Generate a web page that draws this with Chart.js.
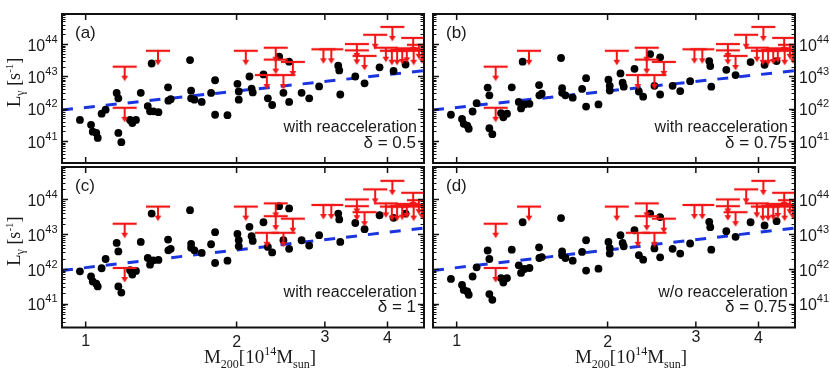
<!DOCTYPE html>
<html><head><meta charset="utf-8">
<script src="https://cdn.jsdelivr.net/npm/chart.js@4.4.1/dist/chart.umd.min.js"></script>
<style>
html,body{margin:0;padding:0;background:#fff;}
#wrap{position:relative;width:830px;height:370px;overflow:hidden;background:#fff;}
#wrap canvas{position:absolute;left:0;top:0;}
</style></head><body>
<div id="wrap">
<canvas id="ca" width="830" height="370"></canvas>
<canvas id="cb" width="830" height="370"></canvas>
<canvas id="cc" width="830" height="370"></canvas>
<canvas id="cd" width="830" height="370"></canvas>
</div>
<script>
// ---------------- data ----------------
const masses = [0.974,1.025,1.033,1.050,1.057,1.076,1.096,1.153,1.162,1.162,1.178,1.226,1.239,1.260,1.288,1.330,1.344,1.365,1.397,1.354,1.460,1.478,1.462,1.615,1.623,1.623,1.648,1.704,1.779,1.812,1.812,1.918,2.008,2.020,2.020,2.122,2.143,2.154,2.263,2.309,2.355,2.432,2.480,2.546,2.546,2.696,2.792,2.922,3.190,3.205,3.220,3.450,3.600,3.857,4.113,4.346];
const lumA = [4.5e41,3.16e41,1.95e41,1.78e41,1.25e41,7.0e41,9.3e41,3.07e42,2.1e42,1.78e41,9.2e40,4.5e41,3.6e41,4.5e41,3.1e42,1.21e42,8.3e41,8.3e41,7.8e41,2.5e43,4.6e42,1.97e42,1.77e42,3.2e43,3.6e42,2.1e42,1.9e42,1.62e42,3.07e42,7.6e42,6.5e41,6.3e41,5.9e42,3.4e42,1.9e42,9.9e42,4.2e42,3.2e42,1.15e43,2.1e42,1.3e42,4.1e43,3.1e42,2.85e43,1.62e42,3.1e42,2.1e42,4.9e42,2.14e43,1.53e43,2.75e42,9.9e42,6.1e42,1.9e43,1.47e43,2.33e43];
const lumB = [6.5e41,4.8e41,3.4e41,3.0e41,2.4e41,8.2e41,1.48e42,4.5e42,2.6e42,2.5e41,1.63e41,7.3e41,5.4e41,7.0e41,4.6e42,1.62e42,1.02e42,1.36e42,1.42e42,2.85e43,5.4e42,2.9e42,2.6e42,3.7e43,4.3e42,3.1e42,2.6e42,2.2e42,4.1e42,8.8e42,1.16e42,1.36e42,7.9e42,5.1e42,3.66e42,1.23e43,6.4e42,4.8e42,1.71e43,3.4e42,2.36e42,4.9e43,5.1e42,3.9e43,2.75e42,5.1e42,3.5e42,7.1e42,2.97e43,2.09e43,4.8e42,1.6e43,1.1e43,2.78e43,2.28e43,2.97e43];
const lumC = [8.6e41,6.1e41,4.4e41,3.8e41,3.16e41,1.05e42,1.94e42,5.6e42,3.2e42,3.16e41,2.1e41,9.2e41,6.9e41,8.8e41,6.0e42,2.07e42,1.33e42,1.78e42,1.82e42,3.9e43,7.0e42,3.8e42,3.45e42,4.9e43,5.3e42,4.1e42,3.45e42,2.9e42,5.15e42,1.14e43,1.49e42,1.74e42,1.02e43,6.7e42,4.5e42,1.63e43,8.8e42,6.4e42,2.2e43,4.3e42,3.0e42,6.4e43,6.7e42,5.5e43,3.8e42,6.7e42,4.7e42,9.4e42,3.9e43,2.65e43,6.0e42,2.1e43,1.39e43,3.5e43,2.96e43,3.9e43];
const lumD = [5.2e41,3.5e41,2.5e41,2.27e41,1.82e41,6.1e41,1.12e42,3.4e42,1.94e42,1.9e41,1.3e41,5.5e41,4.1e41,5.5e41,3.6e42,1.28e42,7.7e41,1.0e42,1.07e42,2.2e43,4.2e42,2.2e42,2.07e42,2.9e43,3.2e42,2.5e42,2.07e42,1.74e42,3.1e42,6.7e42,9.0e41,1.02e42,6.0e42,4.0e42,2.77e42,9.4e42,5.6e42,4.5e42,1.3e43,2.5e42,1.86e42,3.9e43,3.9e42,3.1e43,2.17e42,3.8e42,2.77e42,5.4e42,2.27e43,1.59e43,3.6e42,1.22e43,8.4e42,2.2e43,1.78e43,2.37e43];
const limitMasses = [1.196,1.394,1.196,2.086,2.394,2.394,2.590,2.298,2.480,2.980,3.090,3.475,3.475,3.600,3.780,4.090,4.500,4.620,3.970,4.080,4.180,4.280,4.370,4.510,4.690];
const limitLums   = [2.0e43,6.2e43,1.07e42,6.2e43,7.7e43,3.3e43,2.8e43,1.1e43,1.1e43,6.9e43,6.9e43,1.0e44,6.4e43,4.3e43,1.94e44,3.4e44,1.55e44,9.5e43,7.7e43,6.2e43,6.2e43,6.6e43,7.4e43,6.2e43,6.9e43];
const fitMasses = [0.897, 4.73];
const fitLums = [9.1e41, 1.5e43];
const xTickValues = [1, 2, 3, 4];
const yTickExponents = [41, 42, 43, 44];
const panelLetters = ['(a)', '(b)', '(c)', '(d)'];
const modelLabels = ['with reacceleration', 'with reacceleration', 'with reacceleration', 'w/o reacceleration'];
const deltaLabels = ['\u03b4 = 0.5', '\u03b4 = 0.75', '\u03b4 = 1', '\u03b4 = 0.75'];
const panelLums = [lumA, lumB, lumC, lumD];

// ---------------- layout / style ----------------
const X_MIN = 0.897, X_MAX = 4.73, Y_MIN = 2.09e40, Y_MAX = 8.51e44;
const W = 830, H = 370;
const panels = [
  {id:'ca', left:62,  right:424, top:3,   bottom:163,   yLab:'left',  xLab:false, yTitle:true},
  {id:'cb', left:433, right:795, top:3,   bottom:163,   yLab:'right', xLab:false, yTitle:false},
  {id:'cc', left:62,  right:424, top:167, bottom:327.5, yLab:'left',  xLab:true,  yTitle:true},
  {id:'cd', left:433, right:795, top:167, bottom:327.5, yLab:'right', xLab:true,  yTitle:false}
];
const SANS = '"Liberation Sans", Arial, sans-serif';
const SERIF = '"Liberation Serif", "Times New Roman", serif';
const TEXT = '#1a1a1a';
const RED = '#f21616';
const BLUE = '#1a35e0';
const xLabelDy = [0, 1, -4, -3];

function makeLimitGlyph() {
  const c = document.createElement('canvas');
  c.width = 26; c.height = 30;
  const g = c.getContext('2d');
  g.strokeStyle = RED; g.fillStyle = RED;
  g.lineWidth = 2.2;
  g.beginPath(); g.moveTo(1, 15); g.lineTo(25, 15); g.stroke();
  g.lineWidth = 2;
  g.beginPath(); g.moveTo(13, 15); g.lineTo(13, 25); g.stroke();
  g.beginPath(); g.moveTo(9.6, 24); g.lineTo(16.4, 24); g.lineTo(13, 29.5); g.closePath(); g.fill();
  return c;
}
const limitGlyph = makeLimitGlyph();

function drawRich(ctx, parts, x, y, align) {
  let total = 0;
  parts.forEach(p => { ctx.font = p.f; p.w = ctx.measureText(p.t).width; total += p.w; });
  let cx = align === 'center' ? x - total / 2 : (align === 'right' ? x - total : x);
  ctx.textAlign = 'left'; ctx.textBaseline = 'alphabetic';
  parts.forEach(p => { ctx.font = p.f; ctx.fillText(p.t, cx, y + (p.dy || 0)); cx += p.w; });
}

function makeDecor(p, idx) {
  return {
    id: 'decor' + idx,
    afterDatasetsDraw(chart) {
      const ctx = chart.ctx, a = chart.chartArea, xs = chart.scales.x, ys = chart.scales.y;
      ctx.save();
      ctx.strokeStyle = '#111';
      const seg = (x1, y1, x2, y2) => { ctx.beginPath(); ctx.moveTo(x1, y1); ctx.lineTo(x2, y2); ctx.stroke(); };
      for (let e = 40; e <= 44; e++) {
        for (let k = 1; k <= 9; k++) {
          const v = k * Math.pow(10, e);
          if (v < Y_MIN || v > Y_MAX) continue;
          const py = Math.round(ys.getPixelForValue(v)) + 0.5;
          const len = k === 1 ? 6 : 3.5;
          ctx.lineWidth = k === 1 ? 1.5 : 1;
          seg(a.left, py, a.left + len, py);
          seg(a.right, py, a.right - len, py);
        }
      }
      ctx.lineWidth = 1.5;
      xTickValues.forEach(t => {
        const px = xs.getPixelForValue(t);
        seg(px, a.bottom, px, a.bottom - 6);
        seg(px, a.top, px, a.top + 6);
      });
      ctx.lineWidth = 2;
      ctx.strokeRect(a.left, a.top, a.right - a.left, a.bottom - a.top);

      ctx.fillStyle = TEXT;
      yTickExponents.forEach(e => {
        const py = ys.getPixelForValue(Math.pow(10, e));
        const parts = [{t:'10', f:'16px ' + SANS, dy:6.5}, {t:String(e), f:'11px ' + SANS, dy:-1.5}];
        if (p.yLab === 'left') drawRich(ctx, parts, a.left - 4.5, py, 'right');
        else drawRich(ctx, parts, a.right + 4, py, 'left');
      });
      if (p.xLab) {
        ctx.font = '16px ' + SANS; ctx.textAlign = 'center'; ctx.textBaseline = 'alphabetic';
        xTickValues.forEach((t, i) => {
          ctx.fillText(String(t), xs.getPixelForValue(t), a.bottom + 18.5 + xLabelDy[i]);
        });
        const cx = (a.left + a.right) / 2 + 17;
        drawRich(ctx, [
          {t:'M', f:'19px ' + SERIF}, {t:'200', f:'12px ' + SERIF, dy:5},
          {t:'[10', f:'19px ' + SERIF}, {t:'14', f:'12px ' + SERIF, dy:-8},
          {t:'M', f:'19px ' + SERIF}, {t:'sun', f:'12px ' + SERIF, dy:5},
          {t:']', f:'19px ' + SERIF}
        ], cx, a.bottom + 35.5, 'center');
      }
      if (p.yTitle) {
        ctx.save();
        ctx.translate(20, (a.top + a.bottom) / 2 - 6);
        ctx.rotate(-Math.PI / 2);
        drawRich(ctx, [
          {t:'L', f:'19px ' + SERIF}, {t:'\u03b3', f:'12px ' + SERIF, dy:4},
          {t:' [s', f:'18px ' + SERIF}, {t:'-1', f:'11px ' + SERIF, dy:-7},
          {t:']', f:'18px ' + SERIF}
        ], 0, 0, 'center');
        ctx.restore();
      }
      ctx.font = '17px ' + SANS; ctx.textAlign = 'left'; ctx.textBaseline = 'alphabetic';
      ctx.fillText(panelLetters[idx], a.left + 13, a.top + 24);
      ctx.font = '16px ' + SANS; ctx.textAlign = 'right';
      ctx.fillText(modelLabels[idx], a.right - 7, a.bottom - 31);
      ctx.font = '17px ' + SANS;
      ctx.fillText(deltaLabels[idx], a.right - 8, a.bottom - 15.5);
      ctx.restore();
    }
  };
}

panels.forEach((p, idx) => {
  const lum = panelLums[idx];
  new Chart(document.getElementById(p.id), {
    type: 'scatter',
    data: {
      datasets: [
        { label: 'upper limits',
          data: limitMasses.map((m, i) => ({x: m, y: limitLums[i]})),
          pointStyle: limitGlyph, pointRadius: 13, order: 0, clip: 0 },
        { label: 'model',
          data: masses.map((m, i) => ({x: m, y: lum[i]})),
          pointStyle: 'circle', pointRadius: 3.9, backgroundColor: '#000', borderColor: '#000', borderWidth: 0,
          order: 1, clip: 0 },
        { label: 'fit',
          data: fitMasses.map((m, i) => ({x: m, y: fitLums[i]})),
          showLine: true, borderColor: BLUE, borderWidth: 3, borderDash: [11, 11],
          pointRadius: 0, fill: false, tension: 0, order: 2, clip: 0 }
      ]
    },
    options: {
      responsive: false, animation: false, devicePixelRatio: 1, events: [],
      layout: { padding: { left: p.left, right: W - p.right, top: p.top, bottom: H - p.bottom } },
      plugins: { legend: { display: false }, tooltip: { enabled: false } },
      scales: {
        x: { type: 'logarithmic', min: X_MIN, max: X_MAX, display: false },
        y: { type: 'logarithmic', min: Y_MIN, max: Y_MAX, display: false }
      }
    },
    plugins: [makeDecor(p, idx)]
  });
});
</script>
</body></html>
